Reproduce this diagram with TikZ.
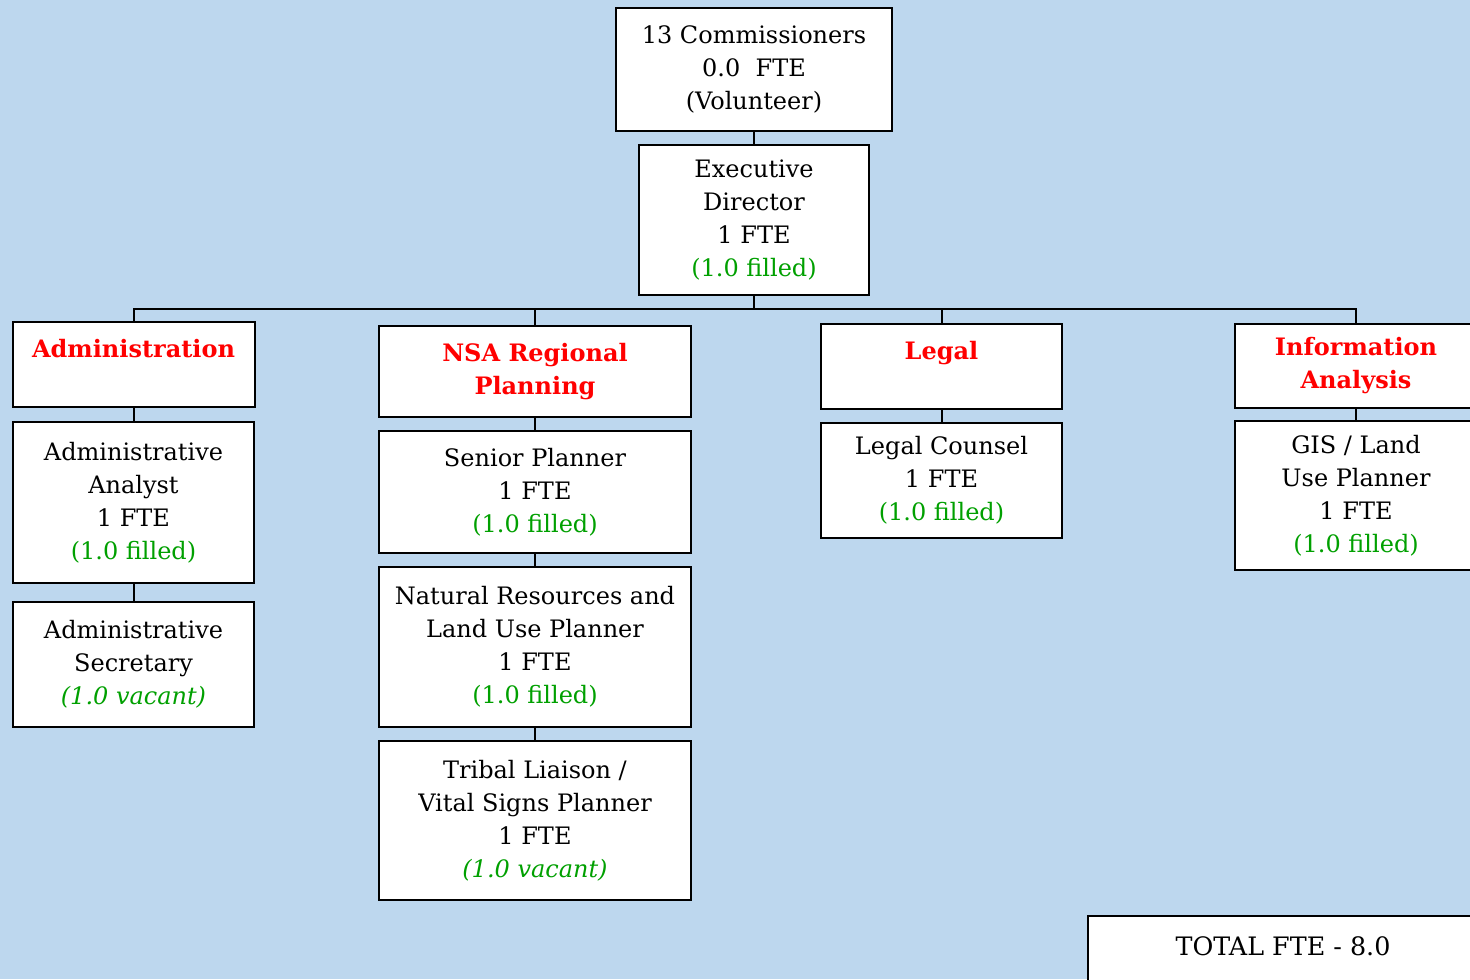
\documentclass[tikz,border=0pt]{standalone}
\usepackage{fontspec}
\setmainfont{DejaVu Serif}
\definecolor{bgblue}{RGB}{189,215,238}
\definecolor{okgreen}{RGB}{0,160,0}
\definecolor{headred}{RGB}{255,0,0}
\newcommand{\filled}{\textcolor{okgreen}{(1.0 filled)}}
\newcommand{\vacant}{\textcolor{okgreen}{\itshape (1.0 vacant)}}
\begin{document}
\begin{tikzpicture}[x=0.5pt,y=-0.5pt]
  \tikzstyle{box}=[draw,line width=1pt,fill=white,align=center,inner sep=0pt,font=\fontsize{12}{16.5}\selectfont]
  \tikzstyle{head}=[box,text=headred,font=\fontsize{12}{16.5}\selectfont\bfseries]
  \tikzstyle{wire}=[line width=1pt]
  \useasboundingbox (0,0) rectangle (1470,979);
  \clip (0,0) rectangle (1470,979);
  \fill[bgblue] (0,0) rectangle (1470,979);

  \node[box,minimum width=138pt,minimum height=61.5pt] (com) at (754,69.5) {13 Commissioners\\0.0\ \ FTE\\(Volunteer)};
  \node[box,minimum width=115pt,minimum height=75pt] (exe) at (754,220) {Executive\\Director\\1 FTE\\\filled};
  \coordinate (bus) at (751,309);

  \node[head,minimum width=121pt,minimum height=42.5pt] (adm) at (133.5,364.5) {Administration\\~};
  \node[box,minimum width=120.5pt,minimum height=80.5pt] (adm_an) at (133.5,502.5) {Administrative\\Analyst\\1 FTE\\\filled};
  \node[box,minimum width=120.5pt,minimum height=62.5pt] (adm_se) at (133.5,664.5) {Administrative\\Secretary\\\vacant};

  \node[head,minimum width=156pt,minimum height=45.5pt] (nsa) at (535,371.5) {NSA Regional\\Planning};
  \node[box,minimum width=156pt,minimum height=61pt] (nsa_sp) at (535,492) {Senior Planner\\1 FTE\\\filled};
  \node[box,minimum width=156pt,minimum height=80pt] (nsa_nr) at (535,647) {Natural Resources and\\Land Use Planner\\1 FTE\\\filled};
  \node[box,minimum width=156pt,minimum height=79.5pt] (nsa_tl) at (535,820.5) {Tribal Liaison /\\Vital Signs Planner\\1 FTE\\\vacant};

  \node[head,minimum width=120.5pt,minimum height=42.5pt] (leg) at (941.5,366.5) {Legal\\~};
  \node[box,minimum width=120.5pt,minimum height=57.5pt] (leg_co) at (941.5,480.5) {Legal Counsel\\1 FTE\\\filled};

  \node[head,minimum width=121pt,minimum height=42pt] (inf) at (1356,366) {Information\\Analysis};
  \node[box,minimum width=121pt,minimum height=74.5pt] (inf_gis) at (1356,495.5) {GIS / Land\\Use Planner\\1 FTE\\\filled};

  \node[box,font=\fontsize{12.7}{16.5}\selectfont,minimum width=195pt,minimum height=46.5pt] (tot) at (1283,962.5) {TOTAL FTE - 8.0\\~};

  \draw[wire] (com) -- (exe);
  \draw[wire] (exe.south) -- (exe.south |- bus);
  \draw[wire] (adm.north) |- (bus) -| (inf.north);
  \draw[wire] (nsa.north) -- (nsa.north |- bus);
  \draw[wire] (leg.north) -- (leg.north |- bus);
  \draw[wire] (adm) -- (adm_an) -- (adm_se);
  \draw[wire] (nsa) -- (nsa_sp) -- (nsa_nr) -- (nsa_tl);
  \draw[wire] (leg) -- (leg_co);
  \draw[wire] (inf) -- (inf_gis);
\end{tikzpicture}
\end{document}
